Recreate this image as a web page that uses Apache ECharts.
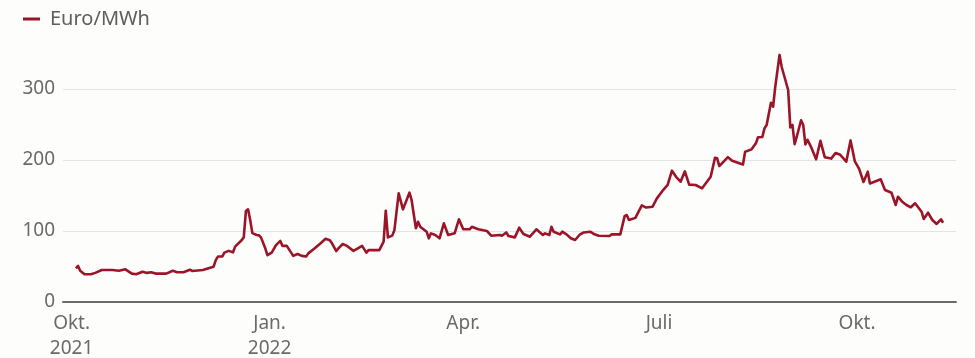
<!DOCTYPE html>
<html>
<head>
<meta charset="utf-8">
<script src="https://cdn.jsdelivr.net/npm/echarts@6/dist/echarts.min.js"></script>
<style>
  html, body { margin: 0; padding: 0; background: #fdfdfc; }
  #chart { width: 975px; height: 358px; }
</style>
</head>
<body>
<div id="chart"></div>
<script>
// Strompreis (Euro/MWh); x = Tage ab 1. Oktober 2021
const days = [2, 3, 4, 6, 9, 11, 14, 19, 22, 25, 28, 30, 33, 35, 37, 39, 44, 47, 49, 52,
  55, 56, 61, 64, 66, 67, 68, 70, 71, 73, 75, 76, 79, 80, 81, 82, 83, 84, 86, 87,
  88, 90, 91, 93, 95, 97, 98, 100, 103, 105, 107, 109, 110, 113, 116, 118, 120, 121, 123, 124,
  126, 128, 131, 133, 135, 137, 138, 143, 145, 146, 147, 149, 150, 152, 154, 157, 158, 160, 161, 162,
  165, 166, 167, 169, 171, 173, 175, 178, 180, 182, 185, 186, 189, 193, 195, 199, 200, 202, 203, 206,
  208, 210, 213, 216, 219, 220, 222, 223, 224, 227, 228, 230, 232, 234, 236, 238, 241, 243, 245, 250,
  251, 255, 257, 258, 259, 262, 265, 267, 270, 272, 275, 277, 279, 281, 283, 285, 287, 290, 293, 297,
  299, 300, 301, 305, 307, 312, 313, 316, 318, 319, 321, 322, 323, 325, 326, 327, 329, 330, 333, 334,
  335, 336, 337, 339, 340, 341, 342, 344, 346, 348, 350, 353, 355, 357, 360, 362, 364, 366, 368, 370,
  371, 374, 376, 378, 381, 383, 384, 386, 388, 390, 392, 395, 396, 398, 400, 402, 404, 405];

const prices = [47.5, 50.7, 44, 39, 39, 41, 45, 45, 44, 46, 40, 39, 42.7, 41, 42, 40, 40, 44, 42, 42,
  45.5, 43.7, 45, 48, 49.7, 59, 64, 64, 69.5, 72, 70, 78, 87, 91, 128, 130.5, 115.5, 97, 94.4, 94,
  91, 75.6, 66, 69.5, 80, 86, 79, 79, 65, 67.6, 65, 64, 68.5, 75.6, 83.5, 89, 87, 82.6, 71.8, 75.6,
  81.7, 79, 72, 75.6, 79, 69.5, 73, 73, 85, 128.6, 91, 93.5, 101, 153, 130.5, 154, 143.7, 103.8, 113, 106,
  99, 89.7, 96.7, 94.4, 89.7, 110.8, 94.4, 96.7, 116.5, 102.4, 102.4, 106, 102.4, 100, 93.4, 94.4, 93.4, 98, 93, 91,
  104.7, 95.8, 92, 102.4, 94.4, 96.7, 94.4, 106, 99, 95.3, 99, 95.3, 89.7, 87.3, 94.4, 98, 99, 95.3, 93.4, 93,
  95.3, 95.3, 121, 122.5, 115.5, 118.5, 136, 133, 134.2, 146, 158, 165, 185, 176, 169.4, 184, 165.3, 164.8, 160.1, 176.5,
  203.2, 202.4, 191.5, 204, 199, 193.7, 211.7, 215, 223.5, 232, 232.4, 244.6, 249.3, 280.7, 275, 303, 348, 331, 298.6, 246,
  249.3, 222.3, 232.8, 256, 249.3, 222, 228.5, 216, 201, 227, 204, 202, 209.8, 207.8, 197.6, 227.6, 198, 187.5, 169, 183.5,
  167, 170.5, 172.8, 157.7, 153.9, 136.6, 148.3, 141.3, 136.6, 133.4, 139, 127.2, 116.9, 125.8, 115.5, 109.9, 116.5, 111.7];

// Quartalsanfänge: 1.10.2021, 1.1., 1.4., 1.7., 1.10.2022
const tickDays = [0, 92, 182, 273, 365];
const tickLabels = ['Okt.\n2021', 'Jan.\n2022', 'Apr.', 'Juli', 'Okt.'];

const seriesData = days.map((d, i) => [d, prices[i]]);

const FONT = '"Noto Sans", "Open Sans", sans-serif';
const chart = echarts.init(document.getElementById('chart'), null, { renderer: 'canvas' });

chart.setOption({
  backgroundColor: '#fdfdfc',
  animation: false,
  textStyle: { fontFamily: FONT },
  legend: {
    left: 18,
    top: 4,
    itemWidth: 17,
    itemHeight: 3,
    itemGap: 10,
    icon: 'rect',
    textStyle: { fontFamily: FONT, fontSize: 20, color: '#5e5e5e', padding: [0, 0, 0, 5] },
    data: ['Euro/MWh']
  },
  grid: { left: 63, right: 19, top: 89, bottom: 56, containLabel: false, outerBoundsMode: 'none' },
  xAxis: {
    type: 'value',
    min: -4,
    max: 411,
    axisLine: { show: true, onZero: false, lineStyle: { color: '#6b6b6b', width: 2 } },
    axisTick: { show: false },
    splitLine: { show: false },
    axisLabel: {
      customValues: tickDays,
      fontFamily: FONT,
      fontSize: 19,
      color: '#6a6a6a',
      lineHeight: 25,
      margin: 9,
      formatter: v => {
        const idx = tickDays.indexOf(v);
        return idx >= 0 ? tickLabels[idx] : '';
      }
    }
  },
  yAxis: {
    type: 'value',
    min: 0,
    max: 300,
    interval: 100,
    axisLine: { show: false },
    axisTick: { show: false },
    splitLine: { show: true, lineStyle: { color: '#e4e4e4', width: 1 } },
    axisLabel: {
      fontFamily: FONT,
      fontSize: 19,
      color: '#6a6a6a',
      margin: 8
    }
  },
  series: [{
    name: 'Euro/MWh',
    type: 'line',
    data: seriesData,
    showSymbol: false,
    symbol: 'none',
    clip: false,
    color: '#9b1428',
    lineStyle: { color: '#9b1428', width: 2.6, join: 'round' }
  }]
});
</script>
</body>
</html>
